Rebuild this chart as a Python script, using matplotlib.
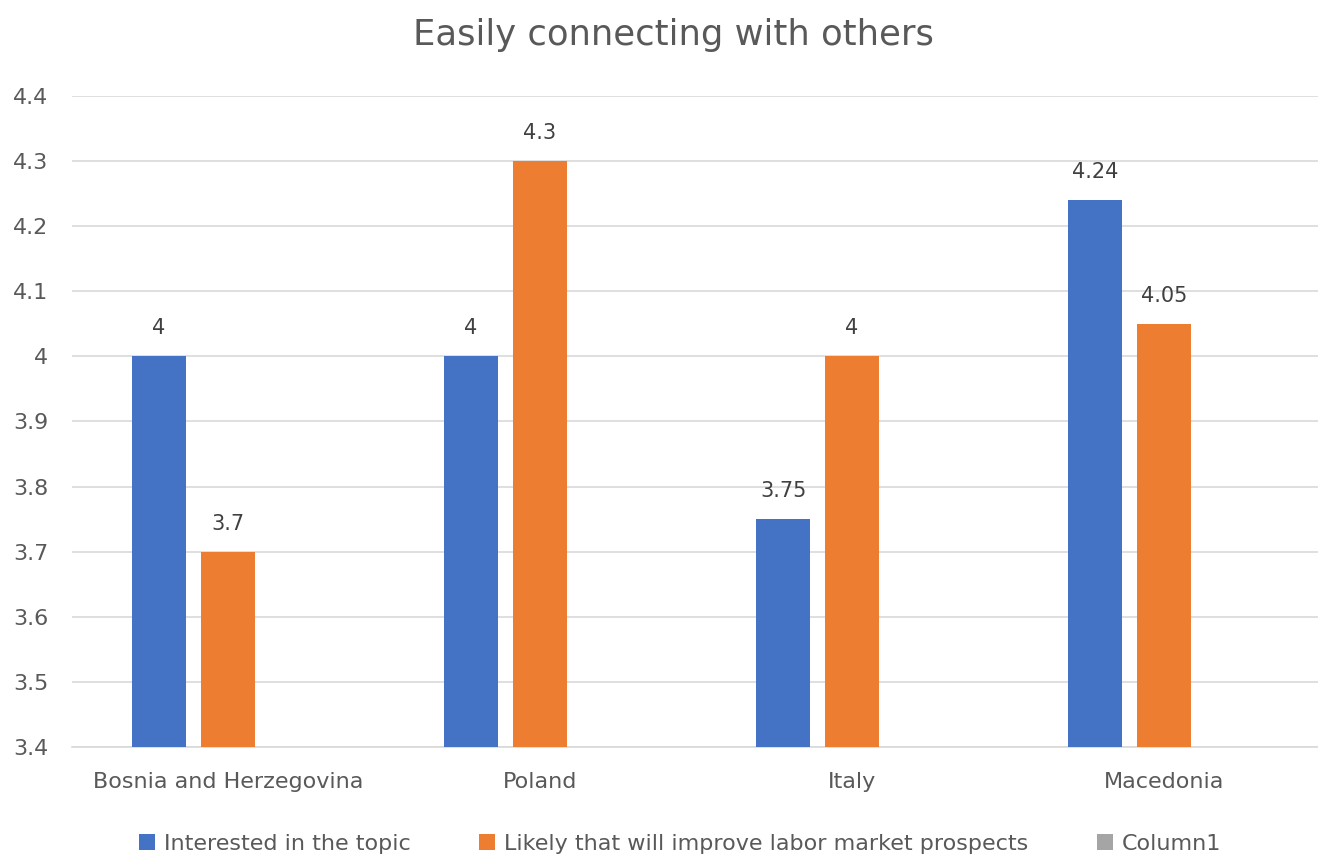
import numpy as np
import matplotlib.pyplot as plt

# data
countries = ["Bosnia and Herzegovina", "Poland", "Italy", "Macedonia"]
interested = [4, 4, 3.75, 4.24]
likely = [3.7, 4.3, 4, 4.05]
column1 = [np.nan, np.nan, np.nan, np.nan]
series_names = ["Interested in the topic",
                "Likely that will improve labor market prospects",
                "Column1"]
colors = ["#4472C4", "#ED7D31", "#A5A5A5"]
yticks = [3.4, 3.5, 3.6, 3.7, 3.8, 3.9, 4.0, 4.1, 4.2, 4.3, 4.4]

TXT = "#595959"
plt.rcParams['font.family'] = ['DejaVu Sans']

fig = plt.figure(figsize=(13.18, 8.6), dpi=100)
ax = fig.add_axes([0.0546, 0.1314, 0.947, 0.757])

x = np.arange(len(countries))
width = 0.173
step = 0.221
base = 3.4
handles = []
for i, (vals, name, col) in enumerate(zip([interested, likely, column1], series_names, colors)):
    vals = np.array(vals, dtype=float)
    pos = x + (i - 1) * step
    b = ax.bar(pos, vals - base, width, bottom=base, color=col, label=name, zorder=3)
    handles.append(b)
    for p, v in zip(pos, vals):
        if np.isnan(v):
            continue
        ax.annotate(f"{v:g}", (p, v), xytext=(0, 13), textcoords="offset points",
                    ha="center", va="bottom", fontsize=15, color="#404040")

ax.set_ylim(3.4, 4.4)
ax.set_xlim(-0.5, 3.5)
ax.set_yticks(yticks)
ax.set_yticklabels([f"{t:g}" for t in yticks])
ax.set_xticks(x)
ax.set_xticklabels(countries)
ax.tick_params(axis="both", length=0, labelsize=16, colors=TXT)
ax.tick_params(axis="x", pad=18)
ax.tick_params(axis="y", pad=17)
ax.grid(axis="y", color="#D9D9D9", linewidth=1.2, zorder=0)
for s in ["top", "right", "left"]:
    ax.spines[s].set_visible(False)
ax.spines["bottom"].set_color("#D9D9D9")
ax.spines["bottom"].set_linewidth(1.2)

fig.suptitle("Easily connecting with others", x=0.511, y=0.979, fontsize=25.5, color=TXT)

fig.legend(handles=handles, labels=series_names, loc="lower center",
           bbox_to_anchor=(0.516, -0.016), ncol=3, frameon=False, fontsize=16,
           labelcolor=TXT, handlelength=0.7, handleheight=0.7, handletextpad=0.4,
           columnspacing=3.1)

fig.savefig("out.png", dpi=100)
